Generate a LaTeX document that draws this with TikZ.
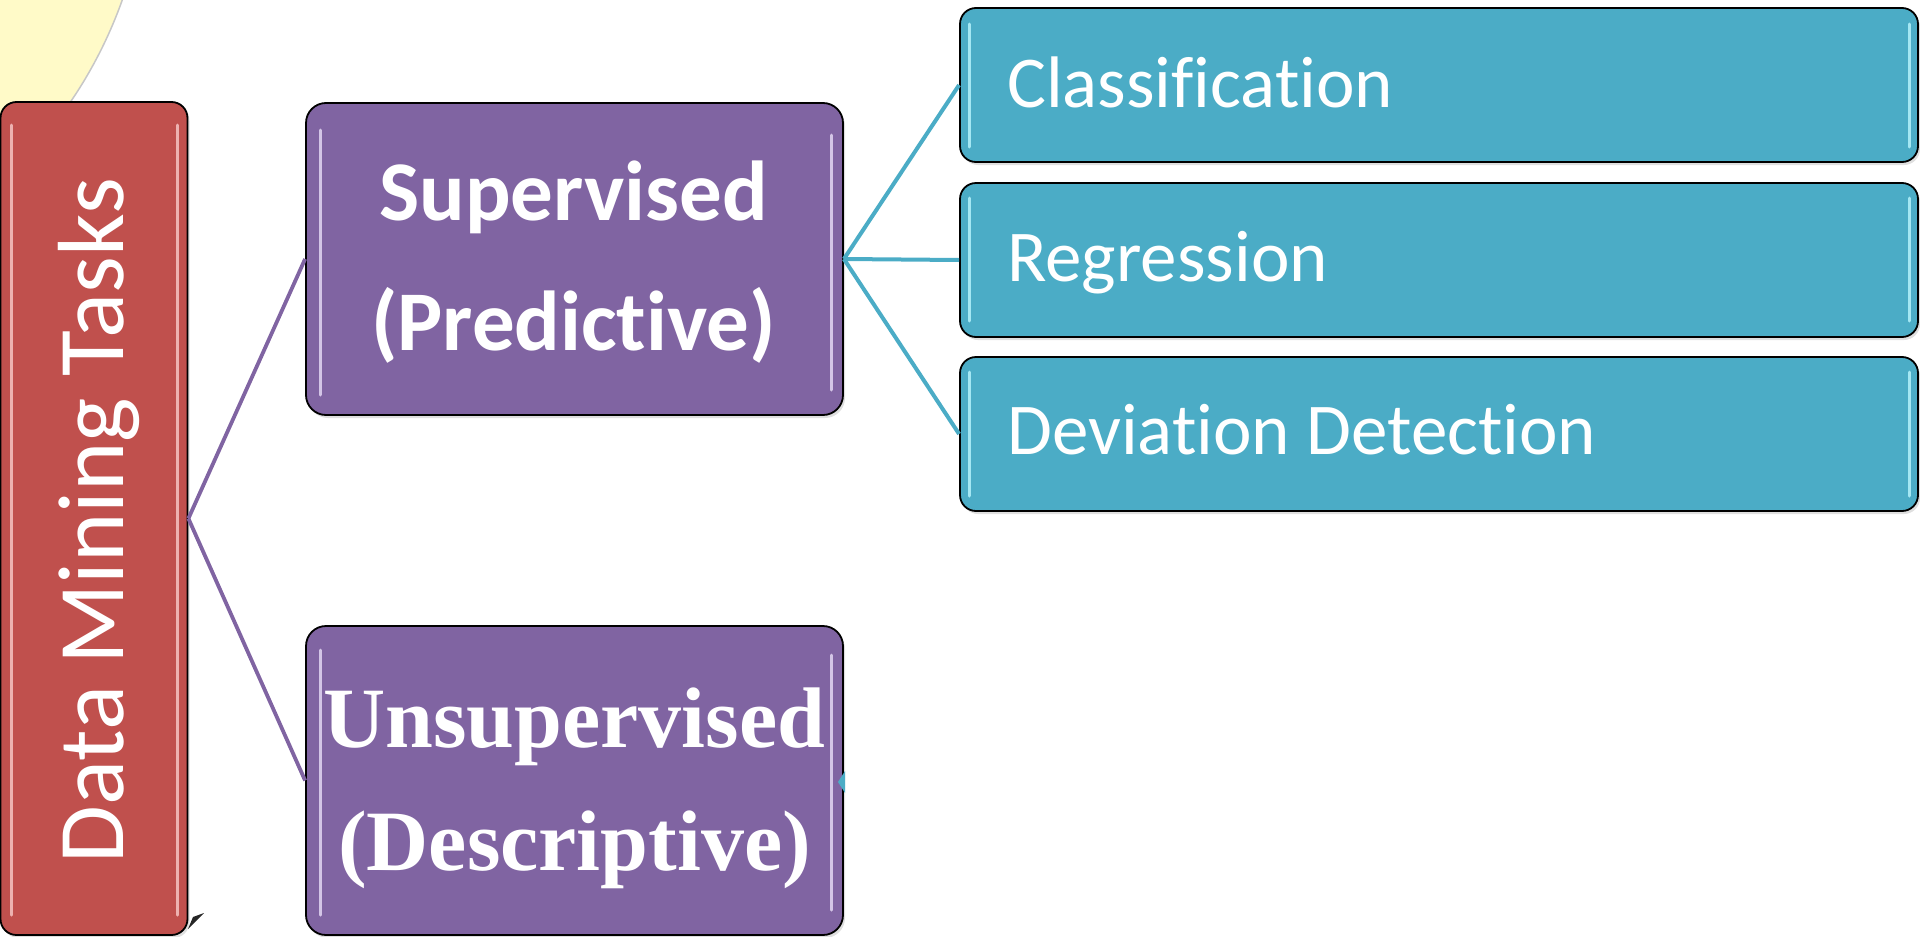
\documentclass[tikz,border=0pt]{standalone}
\usepackage{fontspec}
\setmainfont{Carlito}[Ligatures=NoCommon]
\newfontfamily\serifbf{Liberation Serif}
\usetikzlibrary{shadows}
\definecolor{redbox}{HTML}{C0504D}
\definecolor{purplebox}{HTML}{8064A2}
\definecolor{bluebox}{HTML}{4BACC6}
\definecolor{yellowbg}{HTML}{FFFAC8}
\definecolor{redhl}{HTML}{F6C4C2}
\definecolor{purplehl}{HTML}{E2D6F2}
\definecolor{bluehl}{HTML}{B4F2FB}
\tikzset{
  box/.style={draw=black, line width=1.8pt, rounded corners=16pt, inner sep=0pt,
    drop shadow={opacity=0.25, shadow xshift=2pt, shadow yshift=-3pt}},
  redstyle/.style={box, fill=redbox},
  purplestyle/.style={box, fill=purplebox},
  bluestyle/.style={box, fill=bluebox},
  purpleline/.style={draw=purplebox, line width=3.8pt},
  blueline/.style={draw=bluebox, line width=4pt},
  hl/.style={line width=3pt, line cap=round, opacity=0.85},
  lbl/.style={text=white, inner sep=0pt},
}
\begin{document}
\begin{tikzpicture}[x=1pt,y=-1pt]
\useasboundingbox (0,0) rectangle (1920,937);
\begin{scope}
  \clip (0,0) rectangle (1920,937);
  \fill[yellowbg, draw=black!22, line width=1.5pt] (-300,-150) circle (448pt);
\end{scope}

% boxes (named nodes)
\node[redstyle, minimum width=187pt, minimum height=833pt] (dm) at (94,518.5) {};
\node[purplestyle, minimum width=537pt, minimum height=312pt, rounded corners=20pt] (sup) at (574.5,259) {};
\node[purplestyle, minimum width=537pt, minimum height=309pt, rounded corners=20pt] (uns) at (574.5,780.5) {};
\node[bluestyle, minimum width=958pt, minimum height=154pt] (cls) at (1439,85) {};
\node[bluestyle, minimum width=958pt, minimum height=154pt] (reg) at (1439,260) {};
\node[bluestyle, minimum width=958pt, minimum height=154pt] (dev) at (1439,434) {};

% connectors
\draw[purpleline] (dm.east) -- (sup.west);
\draw[purpleline] (dm.east) -- (uns.west);
\draw[blueline] (sup.east) -- (cls.west);
\draw[blueline] (sup.east) -- (reg.west);
\draw[blueline] (sup.east) -- (dev.west);

% glossy highlights
\draw[hl, redhl] (11,125) -- (11,915);
\draw[hl, redhl] (177,125) -- (177,915);
\draw[hl, purplehl] (320,130) -- (320,395);
\draw[hl, purplehl] (831,135) -- (831,390);
\draw[hl, purplehl] (320,650) -- (320,915);
\draw[hl, purplehl] (831,655) -- (831,910);
\foreach \t/\b in {24/147, 198/321, 372/496}{
  \draw[hl, bluehl] (969,\t) -- (969,\b);
  \draw[hl, bluehl] (1909,\t) -- (1909,\b);
}

% small marks
\fill[black!85] (188,929) -- (204,913) -- (193,917) -- cycle;
\fill[bluebox] (838,782) -- (845,771) -- (845,793) -- cycle;

% texts
\node[lbl, rotate=90, anchor=base, font=\fontsize{94}{100}\selectfont] (dmt) at (123,520.5) {Data Mining Tasks};
\node[lbl, anchor=base, font=\fontsize{85}{90}\selectfont\bfseries] (sup1) at (573.5,220) {Supervised};
\node[lbl, anchor=base, font=\fontsize{85}{90}\selectfont\bfseries] (sup2) at (573.5,350) {(Predictive)};
\node[lbl, anchor=base, font=\serifbf\fontsize{86}{90}\selectfont\bfseries] (uns1) at (574.5,747) {Unsupervised};
\node[lbl, anchor=base, font=\serifbf\fontsize{86}{90}\selectfont\bfseries] (uns2) at (574.5,870) {(Descriptive)};
\node[lbl, anchor=base west, font=\fontsize{73}{80}\selectfont] (clst) at (1007,107) {Classification};
\node[lbl, anchor=base west, font=\fontsize{73}{80}\selectfont] (regt) at (1007,281) {Regression};
\node[lbl, anchor=base west, font=\fontsize{73}{80}\selectfont] (devt) at (1007,454) {Deviation Detection};
\end{tikzpicture}
\end{document}
